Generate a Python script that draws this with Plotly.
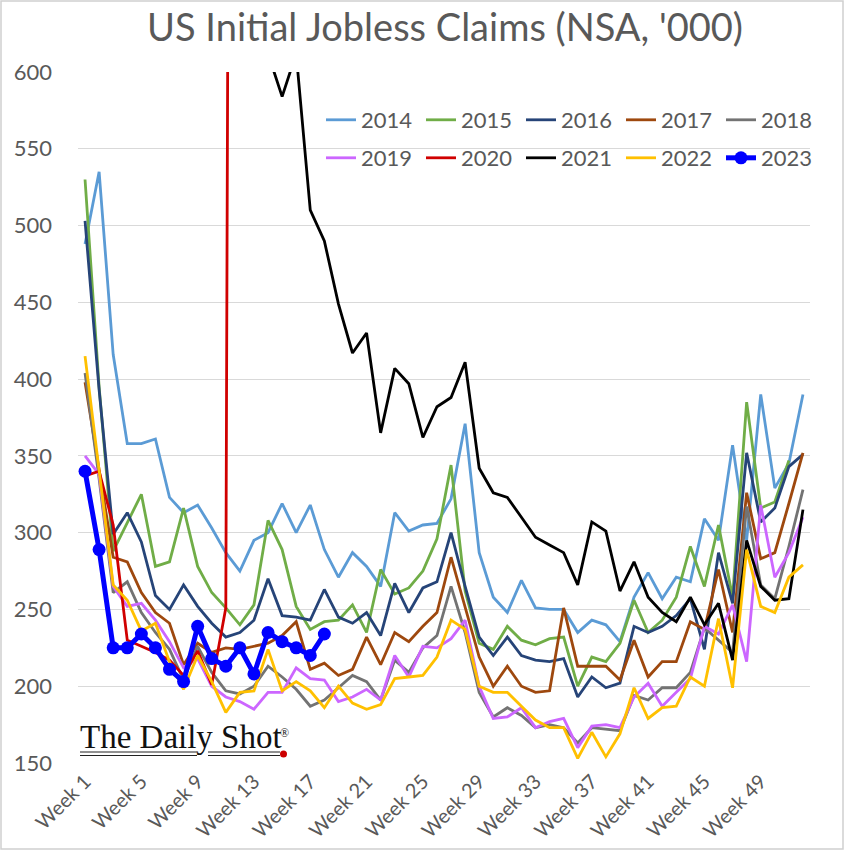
import plotly.graph_objects as go

weeks = list(range(1, 53))
tick_weeks = [1, 5, 9, 13, 17, 21, 25, 29, 33, 37, 41, 45, 49]
tick_labels = ["Week %d" % w for w in tick_weeks]

y2014 = [488, 535, 416, 358, 358, 361, 323, 313, 318, 303, 287, 275, 295, 300, 319, 300, 318, 289, 271, 287,
         278, 265, 313, 301, 305, 306, 322, 371, 287, 258, 248, 269, 251, 250, 250, 235, 243, 240, 229, 258,
         274, 257, 271, 268, 309, 295, 357, 295, 390, 329, 345, 390]
y2015 = [530, 395, 288, 306, 325, 278, 281, 316, 278, 261, 251, 240, 253, 308, 289, 252, 237, 242, 243, 253,
         235, 276, 260, 264, 275, 296, 344, 262, 228, 224, 239, 230, 227, 231, 232, 200, 219, 216, 228, 256,
         235, 243, 258, 291, 265, 305, 258, 385, 316, 320, 347, None]
y2016 = [503, 393, 299, 313, 294, 259, 250, 266, 252, 241, 232, 235, 243, 270, 246, 245, 243, 263, 245, 241,
         248, 233, 267, 248, 264, 268, 300, 265, 232, 220, 232, 220, 217, 216, 218, 193, 206, 199, 202, 239,
         235, 239, 246, 257, 224, 287, 254, 352, 307, 316, 343, 351]
y2017 = [398, 342, 284, 281, 261, 248, 241, 214, 228, 222, 225, 224, 226, 228, 233, 242, 211, 215, 207, 211,
         232, 214, 235, 229, 239, 248, 284, 252, 219, 200, 213, 200, 196, 197, 251, 213, 213, 213, 204, 230,
         206, 216, 216, 242, 237, 276, 235, 326, 283, 287, 319, 352]
y2018 = [404, 335, 261, 268, 248, 235, 224, 204, 226, 209, 197, 195, 200, 213, 206, 198, 187, 191, 199, 207,
         203, 191, 217, 209, 225, 233, 265, 235, 196, 180, 186, 181, 173, 175, 173, 163, 173, 172, 171, 194,
         191, 199, 199, 209, 238, 230, 222, 317, 266, 257, 291, 328]
y2019 = [350, 338, 265, 252, 254, 243, 229, 212, 218, 200, 193, 190, 185, 196, 196, 212, 205, 204, 190, 193,
         198, 191, 220, 206, 226, 225, 231, 243, 200, 179, 180, 186, 173, 177, 179, 160, 174, 175, 173, 193,
         202, 187, 196, 205, 239, 234, 253, 216, 318, 271, 287, 310]
y2020 = [337, 340, 305, 230, 226, 222, 217, 207, 223, 201, 251, 2920] + [None] * 40
y2021 = [None] * 13 + [612, 584, 612, 510, 490, 449, 417, 430, 365, 407, 397, 362, 382, 388, 411, 342, 326,
                       323, 310, 297, 292, 287, 266, 307, 301, 262, 281, 258, 248, 242, 258, 240, 254, 217,
                       295, 265, 256, 257, 315]
y2022 = [415, 340, 266, 256, 236, 241, 216, 198, 220, 203, 183, 196, 197, 224, 197, 203, 197, 186, 200, 189,
         185, 188, 205, 206, 207, 219, 243, 237, 200, 196, 196, 187, 178, 173, 173, 153, 170, 154, 169, 199,
         179, 186, 187, 206, 200, 244, 199, 289, 252, 248, 271, 279]
y2023 = [340, 289, 225, 225, 234, 225, 211, 203, 239, 218, 213, 225, 208, 235, 229, 225, 220, 234]

series = [
    ("2014", y2014, "#5B9BD5", "legend"),
    ("2015", y2015, "#70AD47", "legend"),
    ("2016", y2016, "#264478", "legend"),
    ("2017", y2017, "#9E480E", "legend"),
    ("2018", y2018, "#737373", "legend"),
    ("2019", y2019, "#CC66FF", "legend2"),
    ("2020", y2020, "#D00000", "legend2"),
    ("2021", y2021, "#000000", "legend2"),
    ("2022", y2022, "#FFC000", "legend2"),
]

FONT = "Lato"
GREY = "#595959"

fig = go.Figure()
for name, ys, color, lg in series:
    fig.add_trace(go.Scatter(x=weeks[:len(ys)], y=ys, name=name, mode="lines",
                             line=dict(color=color, width=2.8), legend=lg,
                             connectgaps=False))
fig.add_trace(go.Scatter(x=weeks[:len(y2023)], y=y2023, name="2023", mode="lines+markers",
                         line=dict(color="#0000FF", width=5),
                         marker=dict(color="#0000FF", size=13), legend="legend2"))

W, H = 846, 852
L, R, T, B = 78, 36, 72, 89
pw, ph = W - L - R, H - T - B

def px(x):
    return (x - L) / pw

def py(y):
    return 1 - (y - T) / ph

legend_common = dict(orientation="h", xanchor="left", yanchor="middle",
                     font=dict(family=FONT, size=22, color=GREY),
                     bgcolor="rgba(0,0,0,0)", itemwidth=30,
                     entrywidth=55, entrywidthmode="pixels", tracegroupgap=0)

fig.update_layout(
    width=W, height=H,
    margin=dict(l=L, r=R, t=T, b=B, autoexpand=False),
    paper_bgcolor="white", plot_bgcolor="white",
    title=dict(text="US Initial Jobless Claims (NSA, '000)", x=px(445), xanchor="center", xref="paper",
               y=1 - 28 / H, yanchor="middle",
               font=dict(family=FONT, size=38, color=GREY)),
    xaxis=dict(range=[0.5, 52.5], tickvals=tick_weeks, ticktext=tick_labels, tickangle=-45,
               showgrid=False, zeroline=False, showline=False, ticks="", ticklabelstandoff=2,
               tickfont=dict(family=FONT, size=20, color=GREY)),
    yaxis=dict(range=[150, 600], dtick=50, showgrid=True, gridcolor="#D9D9D9", gridwidth=1,
               zeroline=False, showline=False, ticks="", ticklabelstandoff=25,
               tickfont=dict(family=FONT, size=22, color=GREY)),
    legend=dict(x=px(321), y=py(120), **legend_common),
    legend2=dict(x=px(321), y=py(158), **legend_common),
    showlegend=True,
)

# watermark
fig.add_annotation(text="The Daily Shot", xref="paper", yref="paper",
                   x=px(78), y=py(757), xanchor="left", yanchor="bottom", showarrow=False,
                   font=dict(family="Liberation Serif", size=33, color="#111111"))
fig.add_annotation(text="®", xref="paper", yref="paper",
                   x=px(278), y=py(733), xanchor="left", yanchor="middle", showarrow=False,
                   font=dict(family="Liberation Serif", size=12, color="#111111"))
for x0, x1 in [(80, 197), (208, 280)]:
    for yy in (752, 755.5):
        fig.add_shape(type="line", xref="paper", yref="paper", x0=px(x0), x1=px(x1),
                      y0=py(yy), y1=py(yy), line=dict(color="#222222", width=1))
fig.add_shape(type="circle", xref="paper", yref="paper", x0=px(280), x1=px(287), y0=py(757.5), y1=py(750.5),
              fillcolor="#CC0000", line=dict(width=0))
# outer frame
fig.add_shape(type="rect", xref="paper", yref="paper", x0=px(1), x1=px(843), y0=py(849), y1=py(1),
              line=dict(color="#D0D0D0", width=1.5), layer="below")

fig.write_html("out.html", config={"displayModeBar": False},
               post_script="document.body.style.margin='0px'; document.body.style.overflow='hidden';")
